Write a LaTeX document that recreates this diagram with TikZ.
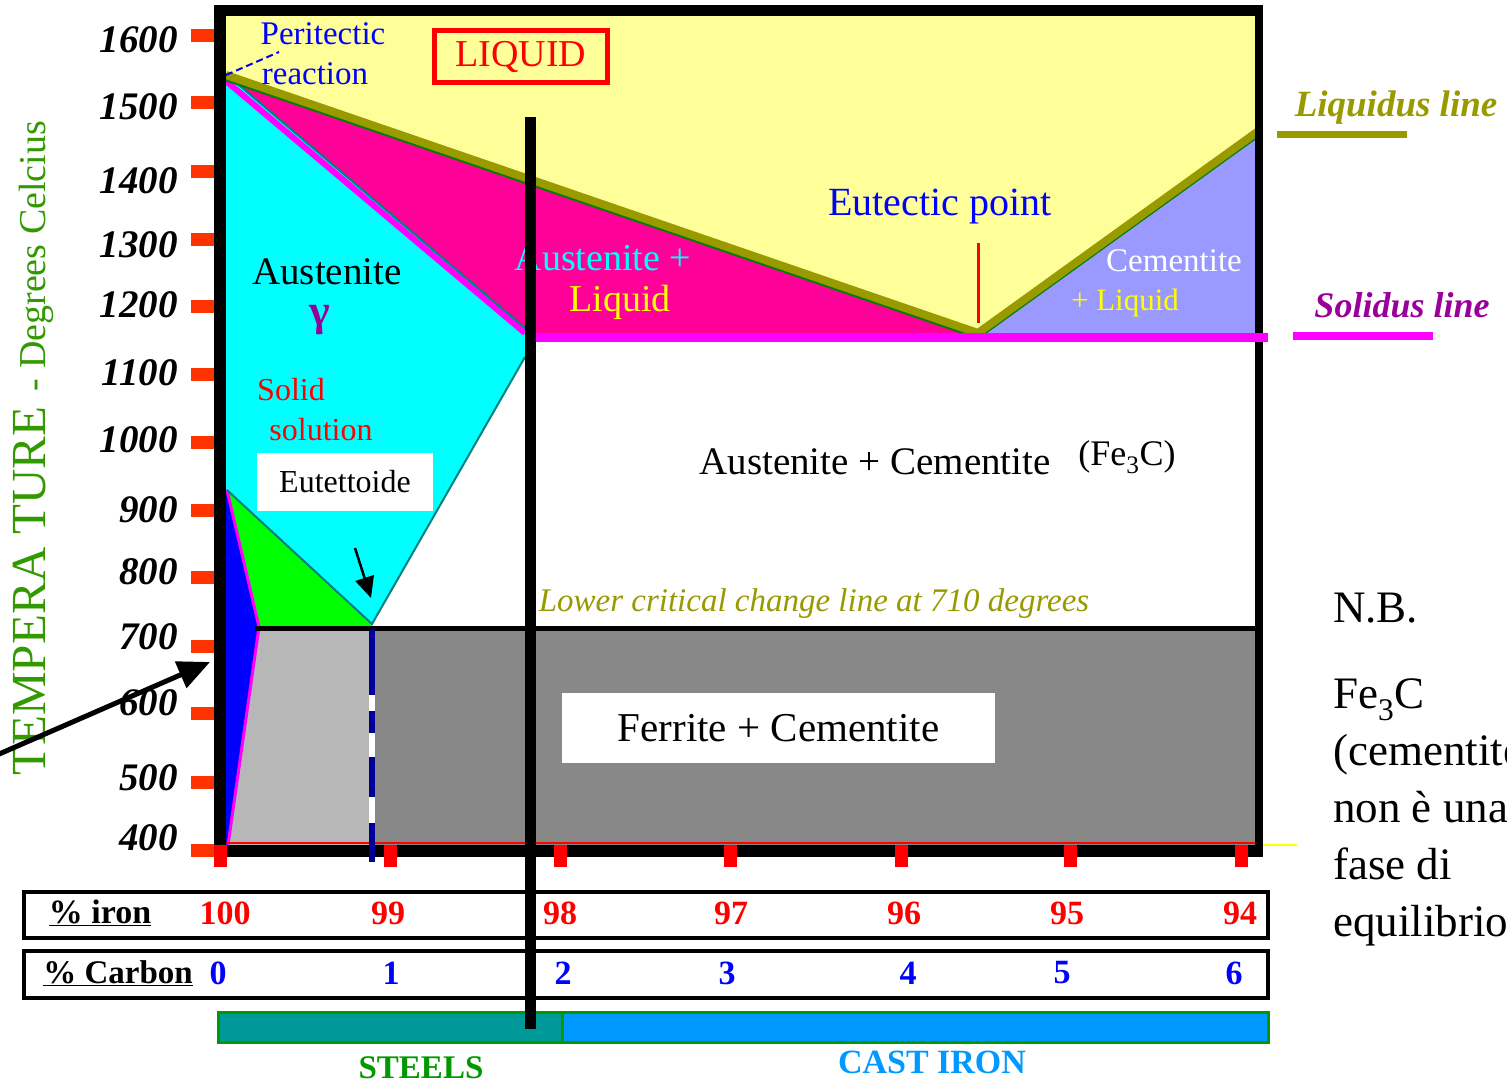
\documentclass[tikz,border=0pt]{standalone}
\usepackage{fontspec}
\setmainfont{Liberation Serif}
\usetikzlibrary{arrows.meta}
\newcommand{\fsz}[1]{\fontsize{#1}{#1}\selectfont}
\definecolor{tickred}{RGB}{255,51,0}
\definecolor{pured}{RGB}{255,0,0}
\definecolor{pureblue}{RGB}{0,0,255}
\definecolor{purecyan}{RGB}{0,255,255}
\definecolor{puremagenta}{RGB}{255,0,255}
\definecolor{pureyellow}{RGB}{255,255,0}
\definecolor{liquidyellow}{RGB}{255,255,153}
\definecolor{hotpink}{RGB}{255,0,153}
\definecolor{lavender}{RGB}{153,153,255}
\definecolor{liqolive}{RGB}{153,153,0}
\definecolor{liqgreen}{RGB}{0,128,0}
\definecolor{solpurple}{RGB}{153,0,153}
\definecolor{tealline}{RGB}{0,128,128}
\definecolor{austgreen}{RGB}{0,255,0}
\definecolor{pearlitelight}{RGB}{183,183,183}
\definecolor{pearlitedark}{RGB}{136,136,136}
\definecolor{darkblue}{RGB}{0,0,153}
\definecolor{axisgreen}{RGB}{51,153,0}
\definecolor{steelteal}{RGB}{0,153,153}
\definecolor{castblue}{RGB}{0,153,255}
\definecolor{bargreen}{RGB}{0,153,0}
\tikzstyle{axis}=[line width=12pt, black]
\tikzstyle{temp tick}=[line width=13pt, tickred]
\tikzstyle{comp tick}=[line width=13pt, pured]
\tikzstyle{temp label}=[anchor=east, inner sep=0pt, font=\fsz{39}\bfseries\itshape]
\tikzstyle{iron label}=[inner sep=0pt, pured, font=\fsz{34}\bfseries]
\tikzstyle{carbon label}=[inner sep=0pt, pureblue, font=\fsz{34}\bfseries]
\tikzstyle{field label}=[inner sep=0pt]
\tikzstyle{white box}=[fill=white, inner sep=0pt]
\tikzstyle{row box}=[draw, line width=4pt]
\tikzstyle{boundary}=[line width=2pt, tealline]
\tikzstyle{liquidus}=[line width=8pt, liqolive]
\tikzstyle{solidus}=[line width=9pt, puremagenta]

\begin{document}
\begin{tikzpicture}[x=1pt, y=-1pt]
  \useasboundingbox (0,0) rectangle (1507,1085);
  \clip (0,0) rectangle (1507,1085);

  % points of the diagram
  \coordinate (peritectic) at (226,75);
  \coordinate (eutectic) at (978,333);
  \coordinate (liq right) at (1257,132);
  \coordinate (sol end) at (525,328);
  \coordinate (acm top) at (525,357);
  \coordinate (eutectoid) at (372,624);
  \coordinate (a3) at (227,490);
  \coordinate (ferr mid) at (259,627);
  \coordinate (ferr low) at (228,845);

  % phase fields
  \fill[liquidyellow] (226,16) -- (1255,16) -- (liq right) -- (eutectic) -- (peritectic) -- cycle;
  \fill[lavender] (eutectic) -- (liq right) -- (1255,337) -- (960,337) -- cycle;
  \fill[hotpink] (peritectic) -- (eutectic) -- (960,337) -- (525,337) -- (sol end) -- cycle;
  \fill[purecyan] (peritectic) -- (sol end) -- (acm top) -- (eutectoid) -- (a3) -- (226,490) -- cycle;
  \fill[austgreen] (a3) -- (eutectoid) -- (372,627) -- (ferr mid) -- cycle;
  \fill[pureblue] (226,490) -- (a3) -- (ferr mid) -- (ferr low) -- (226,845) -- cycle;
  \fill[pearlitelight] (ferr mid) -- (372,627) -- (372,845) -- (ferr low) -- cycle;
  \fill[pearlitedark] (372,627) rectangle (1255,845);

  % boundaries
  \draw[line width=3pt, puremagenta] (a3) -- (ferr mid) -- (ferr low);
  \draw[boundary] (a3) -- (eutectoid) -- (acm top);
  \draw[line width=6pt, puremagenta] (226,81) -- (525,333);
  \draw[boundary] (226,74) -- (sol end);
  \draw[line width=2.5pt, liqgreen] (226,80) -- (978,338) -- (1257,137);
  \draw[liquidus] (peritectic) -- (eutectic) -- (liq right);
  \draw[line width=5pt] (255,628) -- (1263,628);

  % temperature axis
  \foreach \t/\yt/\yl in {1600/35/40, 1500/102/107, 1400/171/181, 1300/239/245,
      1200/306/305, 1100/374/373, 1000/442/440, 900/510/510, 800/577/572,
      700/646/637, 600/713/703, 500/782/778, 400/850/838}{
    \draw[temp tick] (191,\yt) -- (226,\yt);
    \node[temp label] (temp \t) at (178,\yl) {\t};
  }

  % frame
  \draw[axis] (220,5) -- (220,857);
  \draw[line width=11pt] (214,10.5) -- (1263,10.5);
  \draw[line width=8pt] (1259,5) -- (1259,853);
  \draw[axis] (214,851) -- (1263,851);
  \draw[pured, line width=2pt] (226,843) -- (1255,843);
  \draw[pureyellow, line width=1.5pt] (1263,845) -- (1297,845);
  \draw[solidus] (530,337) -- (1268,337);

  % 0.8 % carbon line
  \draw[line width=6pt, darkblue] (372,630) -- (372,862);
  \foreach \ya/\yb in {695/711, 733/757, 797/823}
    \draw[line width=6pt, white] (372,\ya) -- (372,\yb);

  % composition scale
  \draw[row box] (24,892) rectangle (1268,938);
  \draw[row box] (24,951) rectangle (1268,998);
  \node[field label, font=\fsz{34}\bfseries] (iron) at (100,913) {\underline{\% iron}};
  \node[field label, font=\fsz{33}\bfseries] (carbon) at (118,973) {\underline{\% Carbon}};
  \foreach \fe/\c/\xt/\xf/\xc in {100/0/220/225/218, 99/1/390/388/391, 98/2/560/560/563,
      97/3/730/731/727, 96/4/901/904/908, 95/5/1070/1067/1062, 94/6/1241/1240/1234}{
    \draw[comp tick] (\xt,845) -- (\xt,867);
    \node[iron label] (fe \fe) at (\xf,913) {\fe};
    \node[carbon label] (c \c) at (\xc,973) {\c};
  }

  % steels / cast iron bar
  \draw[line width=3pt, bargreen, fill=steelteal] (218,1012) rectangle (562,1042);
  \draw[line width=3pt, bargreen, fill=castblue] (562,1012) rectangle (1268,1042);
  \node[field label, bargreen, font=\fsz{33}\bfseries] (steels) at (421,1068) {STEELS};
  \node[field label, castblue, font=\fsz{34}\bfseries] (cast iron) at (932,1062) {CAST IRON};

  % field names
  \node[field label, pureblue, font=\fsz{33}] (peritectic text) at (323,34) {Peritectic};
  \node[field label, pureblue, font=\fsz{33}] (reaction text) at (315,74) {reaction};
  \coordinate (per tail) at (279,52);
  \draw[pureblue, dash pattern=on 7pt off 4pt, line width=2pt] (peritectic) -- (per tail);
  \node[draw=pured, line width=5pt, pured, font=\fsz{38}, minimum width=173pt,
    minimum height=52pt, inner sep=0pt] (liquid) at (521,56.5) {LIQUID};
  \node[field label, font=\fsz{39}] (austenite) at (327,272) {Austenite};
  \node[field label, solpurple, font=\fsz{44}\bfseries] (gamma) at (320,320) {γ};
  \node[field label, pured, font=\fsz{32}] (solid) at (291,390) {Solid};
  \node[field label, pured, font=\fsz{32}] (solution) at (321,430) {solution};
  \node[white box, minimum width=176pt, minimum height=58pt, font=\fsz{32}] (eutettoide) at (345,482) {Eutettoide};
  \coordinate (eut arrow) at (355,548);
  \coordinate (eut tip) at (371,598);
  \draw[line width=2.5pt, -{Triangle[length=21pt, width=19pt]}] (eut arrow) -- (eut tip);
  \node[field label, purecyan, font=\fsz{38}] (aust liq) at (603,258) {Austenite +};
  \node[field label, pureyellow, font=\fsz{38}] (aust liq2) at (620,302) {Liquid};
  \node[field label, pureblue, font=\fsz{40}] (eutectic text) at (940,207) {Eutectic point};
  \coordinate (eut mark) at (978,243);
  \draw[pured, line width=3pt] (eut mark) -- (978,323);
  \node[field label, white, font=\fsz{33}] (cem liq) at (1174,261) {Cementite};
  \node[field label, pureyellow, font=\fsz{31}] (cem liq2) at (1125,303) {+ Liquid};
  \node[field label, font=\fsz{39}] (aust cem) at (875,462) {Austenite + Cementite};
  \node[field label, font=\fsz{36}] (fe3c) at (1127,457) {(Fe\textsubscript{3}C)};
  \node[field label, liqolive, font=\fsz{33}\itshape] (lower crit) at (814,604) {Lower critical change line at 710 degrees};
  \node[white box, minimum width=433pt, minimum height=70pt, font=\fsz{41}] (ferr cem) at (778.5,728) {Ferrite + Cementite};

  % line legend
  \node[field label, liqolive, font=\fsz{37}\bfseries\itshape] (liq line) at (1396,108) {Liquidus line};
  \draw[liqolive, line width=7pt] (1277,134) -- (1407,134);
  \node[field label, solpurple, font=\fsz{36}\bfseries\itshape] (sol line) at (1402,305) {Solidus line};
  \draw[puremagenta, line width=8pt] (1293,336) -- (1433,336);

  % axis title
  \node[field label, axisgreen, rotate=90, anchor=base, font=\fsz{49}] (temp title) at (45,591) {TEMPERA TURE};
  \node[field label, axisgreen, rotate=90, anchor=base, font=\fsz{38}] (deg title) at (45,256) {- Degrees Celcius};

  % note
  \node[field label, anchor=base west, font=\fsz{45}] (nb) at (1333,622) {N.B.};
  \node[field label, anchor=north west, align=left, font=\fontsize{45}{57}\selectfont] (note) at (1333,678)
    {Fe\textsubscript{3}C\\(cementite)\\non è una\\fase di\\equilibrio};

  % arrows and divider
  \coordinate (arrow start) at (-10,758);
  \coordinate (arrow tip) at (210,662);
  \draw[line width=5pt, -{Triangle[length=32pt, width=28pt]}] (arrow start) -- (arrow tip);
  \draw[line width=11pt] (530,117) -- (530,1029);
\end{tikzpicture}
\end{document}
